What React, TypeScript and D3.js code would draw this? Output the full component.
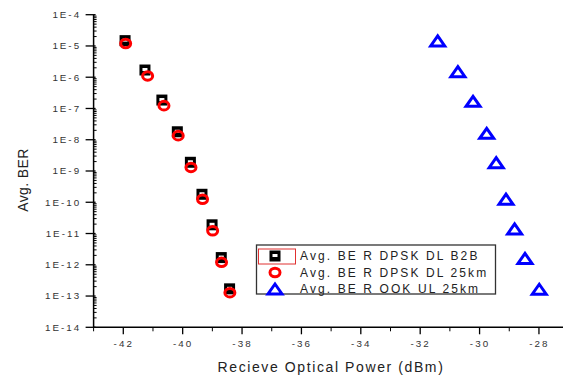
import React from "react";
import * as d3 from "d3";

const b2bX = [-41.94, -41.27, -40.7, -40.18, -39.74, -39.35, -39.01, -38.7, -38.42];
const b2bY = [1.48e-5, 1.7e-6, 1.86e-7, 1.8e-8, 1.9e-9, 1.8e-10, 1.9e-11, 1.7e-12, 1.7e-13];
const dl25X = [-41.92, -41.18, -40.63, -40.15, -39.72, -39.33, -38.99, -38.69, -38.41];
const dl25Y = [1.2e-5, 1.1e-6, 1.23e-7, 1.35e-8, 1.3e-9, 1.25e-10, 1.23e-11, 1.2e-12, 1.28e-13];
const ookX = [-31.41, -30.73, -30.22, -29.76, -29.44, -29.11, -28.82, -28.47, -27.99];
const ookY = [1.45e-5, 1.5e-6, 1.7e-7, 1.6e-8, 1.85e-9, 1.25e-10, 1.4e-11, 1.6e-12, 1.65e-13];

const xTicks = [-42, -40, -38, -36, -34, -32, -30, -28];
const yExps = [-4, -5, -6, -7, -8, -9, -10, -11, -12, -13, -14];
const legendLabels = ["Avg. BE R DPSK DL B2B", "Avg. BE R DPSK DL 25km", "Avg. BE R OOK UL 25km"];
const xTitle = "Recieve Optical Power (dBm)";
const yTitle = "Avg. BER";

const FONT = "Liberation Sans, Arial, sans-serif";

function Square({ x, y }: { x: number; y: number }) {
  return (
    <g>
      <rect x={x - 5.5} y={y - 5.5} width={11} height={11} fill="#000" />
      <rect x={x - 2.5} y={y - 2} width={5} height={3} fill="#fff" />
    </g>
  );
}
function Circle({ x, y }: { x: number; y: number }) {
  return <ellipse cx={x} cy={y} rx={5} ry={4.3} fill="none" stroke="#ff0000" strokeWidth={3} />;
}
function Tri({ x, y }: { x: number; y: number }) {
  return (
    <path
      d={`M${x},${y - 5} L${x + 7},${y + 5} L${x - 7},${y + 5} Z`}
      fill="none"
      stroke="#0000ff"
      strokeWidth={3}
      strokeLinejoin="miter"
    />
  );
}

export default function App() {
  const W = 568, H = 379;
  const left = 93.6, right = 563, top = 14.7, bottom = 327.3;
  const x = d3.scaleLinear().domain([-43, -43 + (right - left) / 29.69]).range([left, right]);
  const y = d3.scaleLog().domain([1e-14, 1e-4]).range([bottom, top]);

  const minorY: number[] = [];
  for (let e = -14; e < -4; e++) for (let k = 2; k <= 9; k++) minorY.push(k * Math.pow(10, e));
  const minorX = d3.range(-43, -27, 1).filter((v) => v % 2 !== 0);

  return (
    <svg width={W} height={H} style={{ position: "absolute", left: 0, top: 0, background: "#fff" }}>
      <rect width={W} height={H} fill="#fff" />
      <line x1={left} y1={top} x2={left} y2={bottom} stroke="#000" strokeWidth={1.5} />
      <line x1={left} y1={bottom} x2={right} y2={bottom} stroke="#000" strokeWidth={1.5} />
      {yExps.map((e) => (
        <g key={e}>
          <line x1={left - 8} x2={left + 2} y1={y(Math.pow(10, e))} y2={y(Math.pow(10, e))} stroke="#000" strokeWidth={1.3} />
          <text x={left - 12.5} y={y(Math.pow(10, e))} dy="0.35em" textAnchor="end" fontFamily={FONT} fontSize={9.8} letterSpacing={2} fill="#333">
            {`1E-${-e}`}
          </text>
        </g>
      ))}
      {minorY.map((v, i) => (
        <line key={i} x1={left} x2={left + 3} y1={y(v)} y2={y(v)} stroke="#000" strokeWidth={1} />
      ))}
      {xTicks.map((t) => (
        <g key={t}>
          <line x1={x(t)} x2={x(t)} y1={bottom} y2={bottom + 7} stroke="#000" strokeWidth={1.3} />
          <text x={x(t) + 0.5} y={bottom + 16} dy="0.35em" textAnchor="middle" fontFamily={FONT} fontSize={9.8} letterSpacing={2.1} fill="#333">
            {t}
          </text>
        </g>
      ))}
      {minorX.map((t) => (
        <line key={t} x1={x(t)} x2={x(t)} y1={bottom} y2={bottom + 4} stroke="#000" strokeWidth={1} />
      ))}
      <text x={331} y={367} dy="0.35em" textAnchor="middle" fontFamily={FONT} fontSize={14} letterSpacing={1.6} fill="#222">
        {xTitle}
      </text>
      <text transform="translate(23,180) rotate(-90)" textAnchor="middle" dy="0.35em" fontFamily={FONT} fontSize={14} letterSpacing={0.4} fill="#222">
        {yTitle}
      </text>
      {b2bX.map((v, i) => (
        <Square key={"s" + i} x={x(v)} y={y(b2bY[i])} />
      ))}
      {dl25X.map((v, i) => (
        <Circle key={"c" + i} x={x(v)} y={y(dl25Y[i])} />
      ))}
      {ookX.map((v, i) => (
        <Tri key={"t" + i} x={x(v)} y={y(ookY[i])} />
      ))}
      <rect x={256.5} y={245} width={239} height={49} fill="#fff" stroke="#333" strokeWidth={1.3} />
      <rect x={258.5} y={249} width={37} height={15} fill="none" stroke="#e03030" strokeWidth={1} />
      <Square x={275} y={256} />
      <Circle x={275} y={272.5} />
      <Tri x={275} y={289} />
      {legendLabels.map((l, i) => (
        <text key={l} x={300} y={256 + i * 16.5} dy="0.35em" fontFamily={FONT} fontSize={12} letterSpacing={2.1} fill="#222">
          {l}
        </text>
      ))}
    </svg>
  );
}
